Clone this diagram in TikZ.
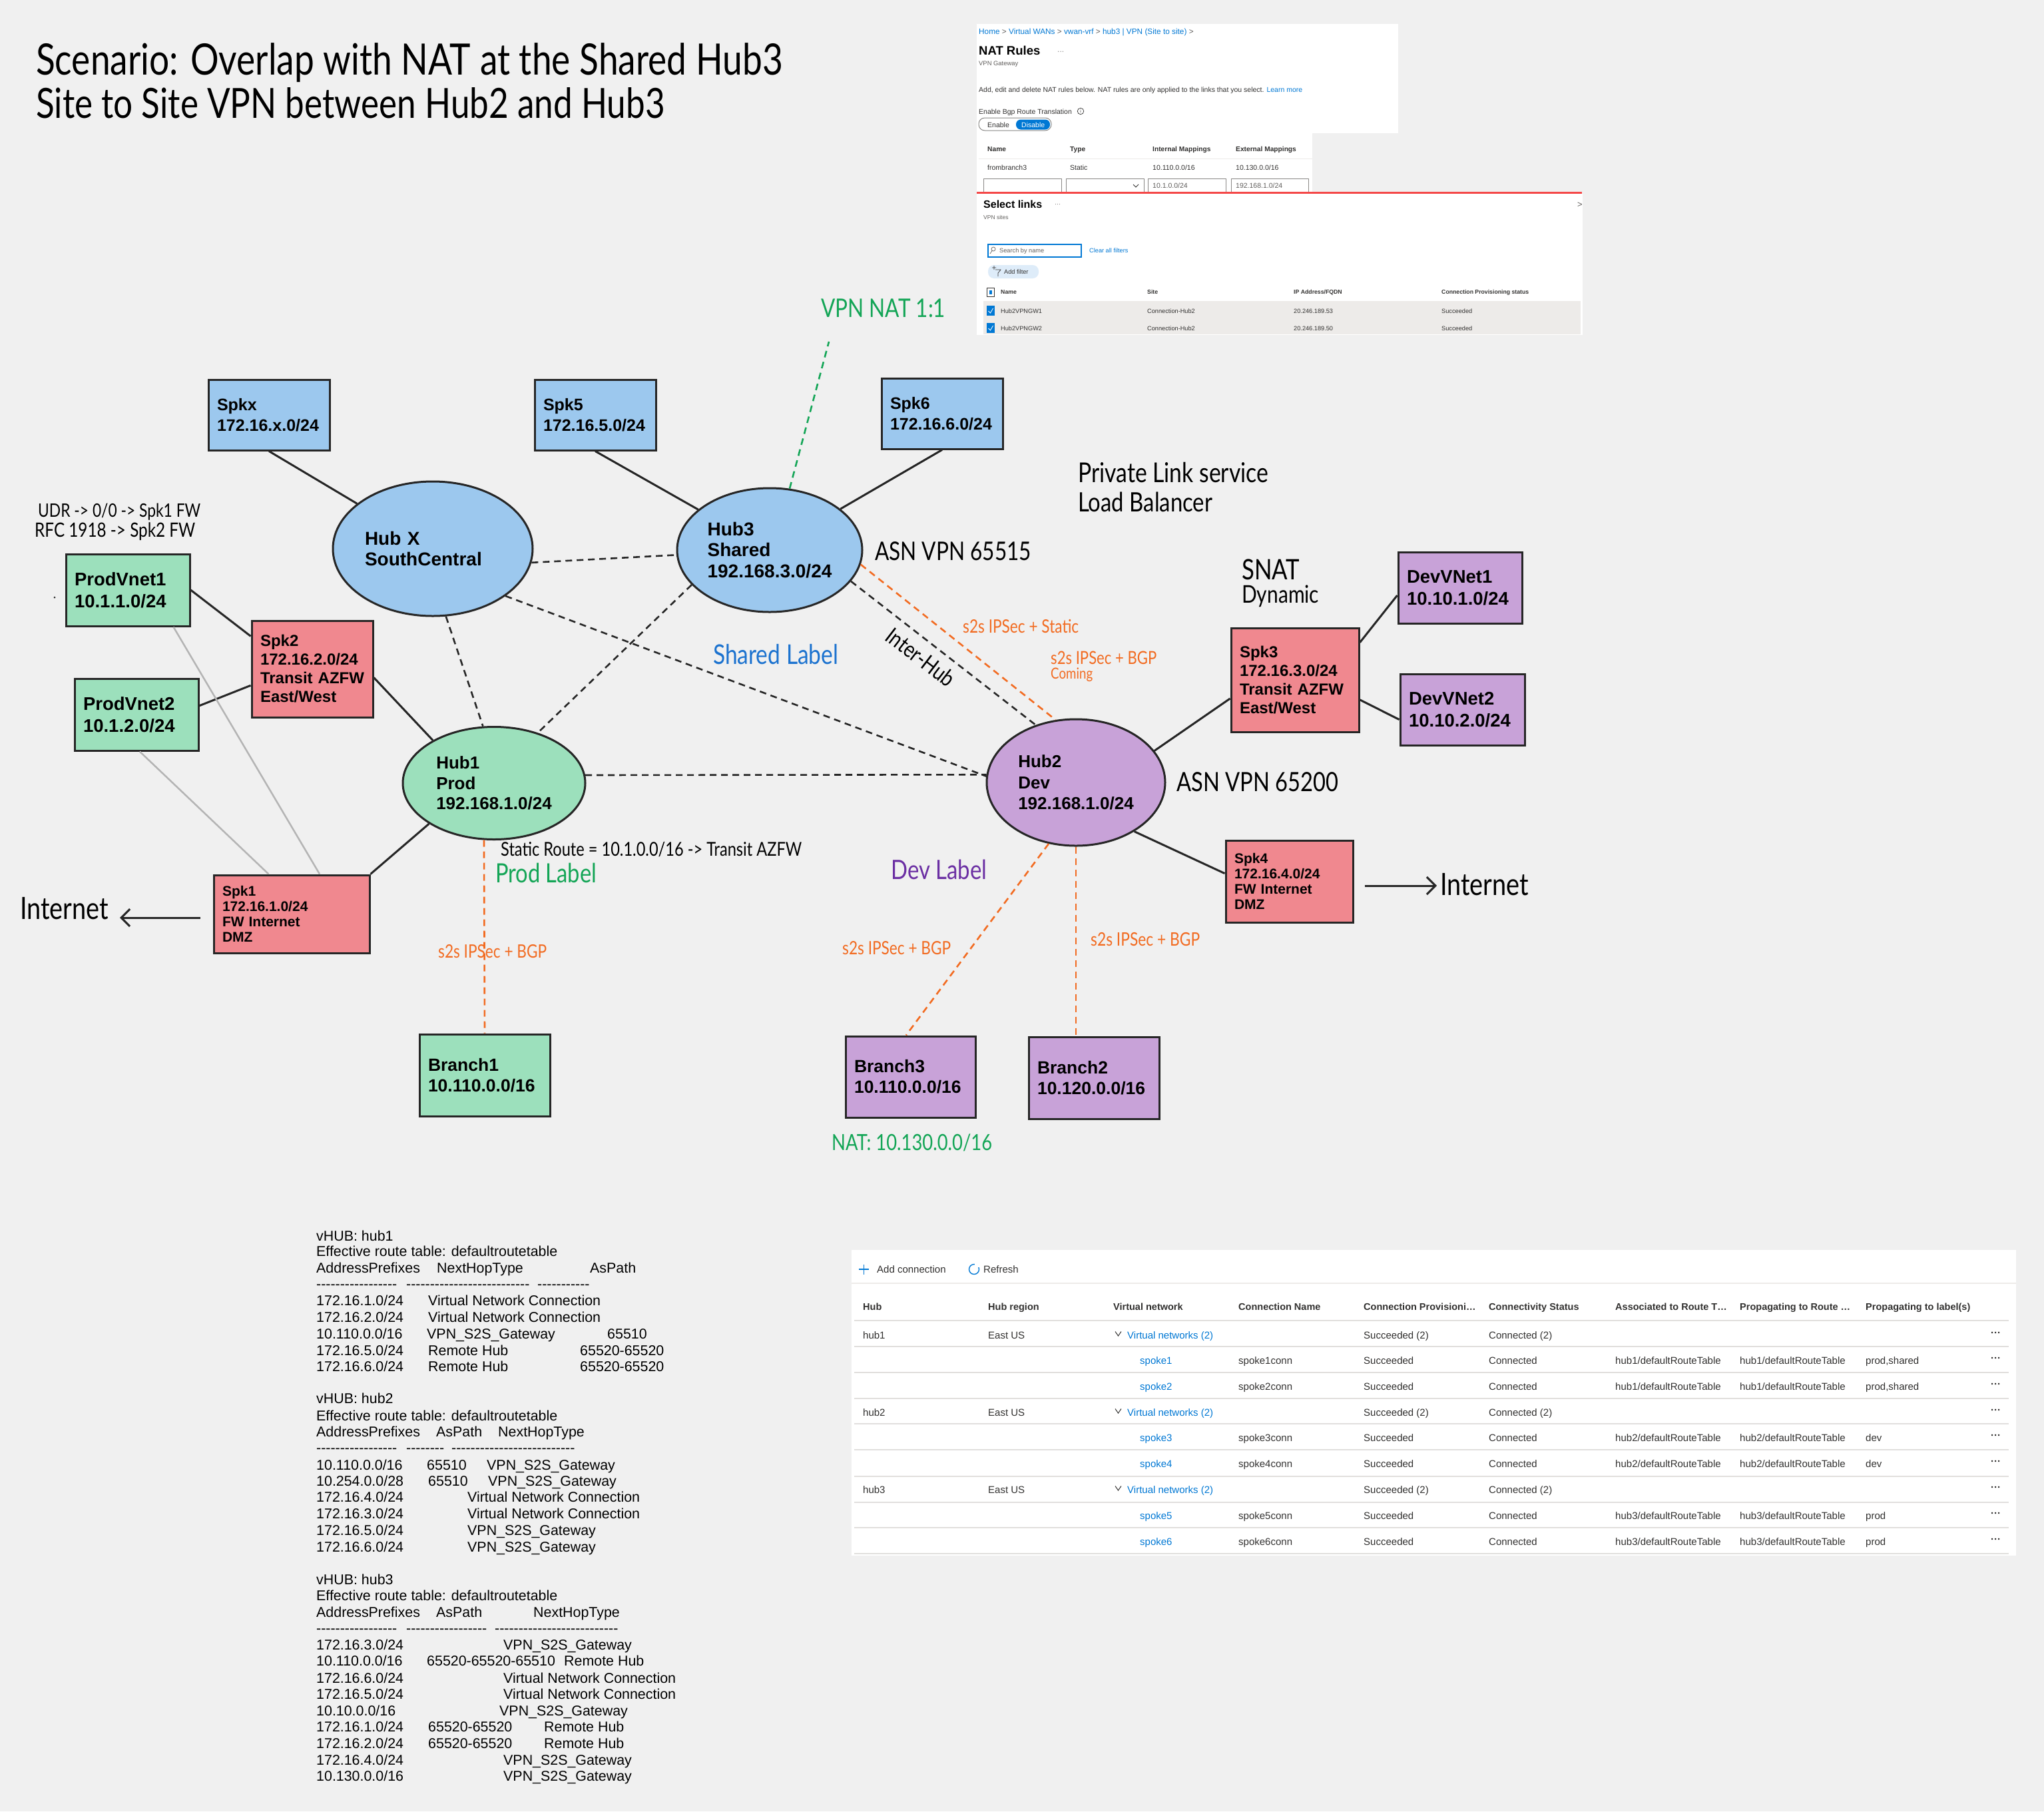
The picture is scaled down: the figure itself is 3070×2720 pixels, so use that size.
\documentclass[tikz,border=0pt]{standalone}
\usepackage{graphicx}
\usepackage{fontspec}
\setmainfont{Liberation Sans}
\newfontfamily\handfont{Lato}[FakeStretch=0.82]
\usetikzlibrary{calc,shapes.geometric,arrows.meta}

\definecolor{bgc}{HTML}{F0F0F0}
\definecolor{lc}{HTML}{262626}
\definecolor{hubblue}{HTML}{9CC8EE}
\definecolor{mint}{HTML}{9CE0BC}
\definecolor{pinkc}{HTML}{F0888F}
\definecolor{lilac}{HTML}{C8A2D8}
\definecolor{orc}{HTML}{F26B21}
\definecolor{grnc}{HTML}{13A556}
\definecolor{bluel}{HTML}{1B72CF}
\definecolor{purpl}{HTML}{6B2FA3}
\definecolor{greyl}{HTML}{B4B4B4}
\definecolor{azblue}{HTML}{0078D4}
\definecolor{uitext}{HTML}{323130}
\definecolor{uigrey}{HTML}{605E5C}
\definecolor{uiborder}{HTML}{8A8886}
\definecolor{uisep}{HTML}{E1DFDD}
\definecolor{uirow}{HTML}{EDEBE9}
\definecolor{uired}{HTML}{F44848}
\definecolor{uipill}{HTML}{DEECF9}

\newcounter{nn}
\newcommand\Tx[3][]{\stepcounter{nn}\node[anchor=base west,inner sep=0pt,#1] (t\thenn) at (#2) {#3};}
\newcommand\HW[4][]{\stepcounter{nn}\node[anchor=base west,inner sep=0pt,#1] (t\thenn) at (#2) {\resizebox{#3pt}{!}{\handfont #4}};}
\newcommand\hy[1]{\foreach\ii in {1,...,#1}{\mbox{-}}}

\tikzset{
 box/.style={draw=lc, line width=3pt, rectangle, inner xsep=13pt, inner ysep=0pt, align=left},
 hub/.style={draw=lc, line width=3pt, ellipse, inner sep=0pt, align=left},
 ln/.style={draw=lc, line width=3pt},
 dsh/.style={draw=lc, line width=2.6pt, dash pattern=on 10pt off 7pt},
 odsh/.style={draw=orc, line width=2.6pt, dash pattern=on 10pt off 7pt},
 gdsh/.style={draw=grnc, line width=2.6pt, dash pattern=on 10pt off 7pt},
 gry/.style={draw=greyl, line width=2.5pt},
 inet/.style={draw=lc, line width=3pt, -{Straight Barb[length=13pt,width=26pt]}},
 rt/.style={font=\fontsize{21.4}{25}\selectfont, text=black},
 ui/.style={font=\fontsize{15}{18}\selectfont, text=uitext},
 uil/.style={font=\fontsize{15}{18}\selectfont, text=azblue},
 uih/.style={font=\bfseries\fontsize{14.5}{18}\selectfont, text=uitext},
 uid/.style={font=\bfseries\fontsize{15}{18}\selectfont, text=uitext},
 na/.style={font=\fontsize{10.5}{13}\selectfont, text=uitext},
 nah/.style={font=\bfseries\fontsize{10.2}{13}\selectfont, text=uitext},
 sl/.style={font=\fontsize{9.2}{11}\selectfont, text=uitext},
 slh/.style={font=\bfseries\fontsize{8.7}{11}\selectfont, text=uitext},
}

\newcommand\GR[2]{%
 \Tx[ui]{1296,#1}{#2}\Tx[ui]{1484,#1}{East US}%
 \draw[uitext, line width=1pt] (1675,#1-11) -- (1679.5,#1-4.5) -- (1684,#1-11);%
 \Tx[uil]{1693,#1}{Virtual networks (2)}\Tx[ui]{2048,#1}{Succeeded (2)}\Tx[ui]{2236,#1}{Connected (2)}\Tx[uid]{2990,#1-4.5}{···}}
\newcommand\SR[4]{%
 \Tx[uil]{1712,#1}{spoke#2}\Tx[ui]{1860,#1}{spoke#2conn}\Tx[ui]{2048,#1}{Succeeded}\Tx[ui]{2236,#1}{Connected}%
 \Tx[ui]{2426,#1}{#3/defaultRouteTable}\Tx[ui]{2613,#1}{#3/defaultRouteTable}\Tx[ui]{2802,#1}{#4}\Tx[uid]{2990,#1-4.5}{···}}

\begin{document}
\begin{tikzpicture}[x=1pt,y=-1pt]
\useasboundingbox (0,0) rectangle (3070,2720);
\fill[bgc] (0,0) rectangle (3070,2720);

% ---------------- titles and hand labels
\HW{54,112}{1121}{Scenario: Overlap with NAT at the Shared Hub3}
\HW{54,177}{944}{Site to Site VPN between Hub2 and Hub3}
\HW{57,776}{244}{UDR -> 0/0 -> Spk1 FW}
\HW{52,806}{241}{RFC 1918 -> Spk2 FW}
\fill[lc] (82,897) circle (1.5);

% ---------------- NAT rules screenshot
\fill[white] (1467,36) rectangle (2100,200);
\fill[white] (1467,200) rectangle (1971,292);
\Tx[font=\fontsize{11.8}{14}\selectfont, text=azblue]{1470,51}{Home \textcolor{uigrey}{>} Virtual WANs \textcolor{uigrey}{>} vwan-vrf \textcolor{uigrey}{>} hub3 | VPN (Site to site) \textcolor{uigrey}{>}}
\Tx[font=\bfseries\fontsize{18.5}{22}\selectfont, text=black]{1470,82}{NAT Rules}
\Tx[font=\fontsize{10}{12}\selectfont, text=uigrey]{1588,80}{···}
\Tx[font=\fontsize{9.4}{11}\selectfont, text=uigrey]{1470,98}{VPN Gateway}
\Tx[na]{1470,138}{Add, edit and delete NAT rules below. NAT rules are only applied to the links that you select. \textcolor{azblue}{Learn more}}
\Tx[na]{1470,171}{Enable Bgp Route Translation}
\node[draw=uitext, circle, line width=0.7pt, inner sep=0pt, minimum size=9.5pt, font=\fontsize{6.5}{7}\selectfont, text=uitext] (info) at (1623,167) {i};
\draw[uiborder, line width=1pt, rounded corners=9pt] (1470,177) rectangle (1579,196);
\fill[azblue, rounded corners=7pt] (1526,179.5) rectangle (1577,194.5);
\Tx[na]{1483,191}{Enable}
\Tx[na, text=white]{1534,191}{Disable}
\Tx[nah]{1483,227}{Name}
\Tx[nah]{1607,227}{Type}
\Tx[nah]{1731,227}{Internal Mappings}
\Tx[nah]{1856,227}{External Mappings}
\draw[uirow, line width=1pt] (1470,238) -- (1971,238);
\Tx[na]{1483,255}{frombranch3}
\Tx[na]{1607,255}{Static}
\Tx[na]{1731,255}{10.110.0.0/16}
\Tx[na]{1856,255}{10.130.0.0/16}
\draw[uiborder, line width=1pt] (1477,268) rectangle (1594,296);
\draw[uiborder, line width=1pt] (1601,268) rectangle (1718,296);
\draw[uiborder, line width=1pt] (1724,268) rectangle (1841,296);
\draw[uiborder, line width=1pt] (1849,268) rectangle (1965,296);
\draw[uitext, line width=0.8pt] (1702,277) -- (1706,281) -- (1710,277);
\Tx[na, text=uigrey]{1731,282}{10.1.0.0/24}
\Tx[na, text=uigrey]{1856,282}{192.168.1.0/24}

% ---------------- Select links screenshot
\fill[white] (1467,291) rectangle (2377,503);
\draw[uired, line width=3pt] (1467,289) -- (2376,289);
\Tx[font=\bfseries\fontsize{16}{19}\selectfont, text=black]{1477,312}{Select links}
\Tx[font=\fontsize{9}{11}\selectfont, text=uigrey]{1584,309}{···}
\Tx[font=\fontsize{13}{15}\selectfont, text=uigrey]{2369,311}{>}
\Tx[font=\fontsize{8.5}{10}\selectfont, text=uigrey]{1477,329}{VPN sites}
\draw[azblue, line width=1.2pt] (1484,367) rectangle (1624,386);
\draw[uigrey, line width=0.7pt] (1492,374) circle (3) (1490,376.5) -- (1487,381);
\Tx[sl, text=uigrey]{1501,379}{Search by name}
\Tx[sl, text=azblue]{1636,379}{Clear all filters}
\fill[uipill, rounded corners=9pt] (1484,398) rectangle (1560,418);
\draw[uitext, line width=0.7pt] (1490,402) -- (1496,402) (1493,399) -- (1493,405) (1495,405) -- (1503,405) -- (1499,410) -- (1499,415);
\Tx[sl]{1508,411}{Add filter}
\draw[uitext, line width=0.8pt] (1482,432) rectangle (1493,445);
\fill[azblue] (1485.5,435.5) rectangle (1489.5,441.5);
\Tx[slh]{1503,441}{Name}
\Tx[slh]{1723,441}{Site}
\Tx[slh]{1943,441}{IP Address/FQDN}
\Tx[slh]{2165,441}{Connection Provisioning status}
\fill[uirow] (1477,452) rectangle (2374,502);
\fill[azblue] (1482,459) rectangle (1494,474);
\draw[white, line width=0.8pt] (1484.5,467) -- (1487.5,470) -- (1491.5,463);
\fill[azblue] (1482,485) rectangle (1494,500);
\draw[white, line width=0.8pt] (1484.5,493) -- (1487.5,496) -- (1491.5,489);
\Tx[sl]{1503,470}{Hub2VPNGW1}
\Tx[sl]{1723,470}{Connection-Hub2}
\Tx[sl]{1943,470}{20.246.189.53}
\Tx[sl]{2165,470}{Succeeded}
\Tx[sl]{1503,496}{Hub2VPNGW2}
\Tx[sl]{1723,496}{Connection-Hub2}
\Tx[sl]{1943,496}{20.246.189.50}
\Tx[sl]{2165,496}{Succeeded}

% ---------------- diagram nodes
\node[box, fill=hubblue, minimum width=182, minimum height=106, text width=156, font=\bfseries\fontsize{25}{31}\selectfont] (spkx) at (404,623) {Spkx\\172.16.x.0/24};
\node[box, fill=hubblue, minimum width=182, minimum height=106, text width=156, font=\bfseries\fontsize{25}{31}\selectfont] (spk5) at (894,623) {Spk5\\172.16.5.0/24};
\node[box, fill=hubblue, minimum width=182, minimum height=106, text width=156, font=\bfseries\fontsize{25}{31}\selectfont] (spk6) at (1415,621) {Spk6\\172.16.6.0/24};
\node[box, fill=mint, minimum width=186, minimum height=108, text width=160, font=\bfseries\fontsize{27.5}{33}\selectfont] (pv1) at (192,886) {ProdVnet1\\10.1.1.0/24};
\node[box, fill=mint, minimum width=186, minimum height=108, text width=160, font=\bfseries\fontsize{27.5}{33}\selectfont] (pv2) at (205,1073) {ProdVnet2\\10.1.2.0/24};
\node[box, fill=pinkc, minimum width=182, minimum height=145, text width=156, font=\bfseries\fontsize{24}{28}\selectfont] (spk2) at (469,1004.5) {Spk2\\172.16.2.0/24\\\mbox{Transit AZFW}\\East/West};
\node[box, fill=pinkc, minimum width=234, minimum height=117, text width=208, font=\bfseries\fontsize{21}{23}\selectfont] (spk1) at (438,1372.5) {Spk1\\172.16.1.0/24\\\mbox{FW Internet}\\DMZ};
\node[box, fill=mint, minimum width=196, minimum height=123, text width=170, font=\bfseries\fontsize{26.5}{31}\selectfont] (b1) at (728,1614.5) {Branch1\\10.110.0.0/16};
\node[box, fill=lilac, minimum width=195, minimum height=122, text width=169, font=\bfseries\fontsize{26.5}{31}\selectfont] (b3) at (1367.5,1617) {Branch3\\10.110.0.0/16};
\node[box, fill=lilac, minimum width=196, minimum height=123, text width=170, font=\bfseries\fontsize{26.5}{31}\selectfont] (b2) at (1643,1618.5) {Branch2\\10.120.0.0/16};
\node[box, fill=pinkc, minimum width=192, minimum height=156, text width=166, font=\bfseries\fontsize{24}{28}\selectfont] (spk3) at (1945,1021) {Spk3\\172.16.3.0/24\\\mbox{Transit AZFW}\\East/West};
\node[box, fill=lilac, minimum width=186, minimum height=107, text width=160, font=\bfseries\fontsize{27.5}{33}\selectfont] (dv1) at (2193,882.5) {DevVNet1\\10.10.1.0/24};
\node[box, fill=lilac, minimum width=187, minimum height=107, text width=161, font=\bfseries\fontsize{27.5}{33}\selectfont] (dv2) at (2196.5,1065.5) {DevVNet2\\10.10.2.0/24};
\node[box, fill=pinkc, minimum width=191, minimum height=123, text width=165, font=\bfseries\fontsize{21}{23}\selectfont] (spk4) at (1936.5,1323.5) {Spk4\\172.16.4.0/24\\\mbox{FW Internet}\\DMZ};

\node[hub, fill=hubblue, minimum width=300, minimum height=202, text width=204, font=\bfseries\fontsize{28}{31}\selectfont] (hubx) at (650,824) {\mbox{Hub X}\\SouthCentral};
\node[hub, fill=hubblue, minimum width=278, minimum height=186, font=\bfseries\fontsize{28}{31.5}\selectfont] (hub3) at (1156,826) {Hub3\\Shared\\192.168.3.0/24};
\node[hub, fill=mint, minimum width=274, minimum height=169, font=\bfseries\fontsize{26}{30.6}\selectfont] (hub1) at (742,1176) {Hub1\\Prod\\192.168.1.0/24};
\node[hub, fill=lilac, minimum width=268, minimum height=190, font=\bfseries\fontsize{26}{31.5}\selectfont] (hub2) at (1616,1175) {Hub2\\Dev\\192.168.1.0/24};

% ---------------- connectors
\draw[ln] (spkx.south) -- (hubx);
\draw[ln] (spk5.south) -- (hub3);
\draw[ln] (spk6.south) -- (hub3);
\draw[dsh] (hubx.-8) -- (hub3.183);
\draw[dsh] (hubx.-33) -- (hub2.176);
\draw[dsh] (hubx.-79) -- (hub1.101);
\draw[dsh] (hub3.204) -- (hub1.49);
\draw[dsh] (hub1.5) -- (hub2.175);
\draw[dsh] (hub3.-21) -- (hub2.125);
\draw[odsh] (hub3.-9) -- (hub2.108);
\coordinate (natend) at (1245,513);
\draw[gdsh] (hub3.72) -- (natend);
\draw[ln] (pv1.east) -- (spk2.152);
\draw[ln] (pv2.8) -- (spk2.195);
\draw[ln] (spk2.-8) -- (hub1.145);
\draw[gry] (pv1.-39) -- (spk1.55);
\draw[gry] (pv2.-85) -- (spk1.120);
\draw[ln] (hub1.212) -- (spk1.north east);
\coordinate (arrL) at (180,1378);
\draw[inet] ($(spk1.west)+(-19,5.5)$) -- (arrL);
\draw[odsh] (hub1.-100) -- (b1.north);
\draw[odsh] (hub2.-114) -- (b3.96);
\draw[odsh] (hub2.south) -- (b2.north -| hub2.south);
\draw[ln] (hub2.22) -- (spk3.196);
\draw[ln] (spk3.30) -- (dv1.187);
\draw[ln] (spk3.-17) -- (dv2.189);
\draw[ln] (hub2.-40) -- (spk4.173);
\coordinate (arrR) at (2158,1330);
\draw[inet] ($(spk4.east)+(16,6.5)$) -- (arrR);

% ---------------- diagram labels
\HW{30,1380}{133}{Internet}
\HW[text=grnc]{1233,476}{187}{VPN NAT 1:1}
\HW{1619,724}{286}{Private Link service}
\HW{1619,768}{202}{Load Balancer}
\HW{1314,841}{235}{ASN VPN 65515}
\HW{1865,870}{87}{SNAT}
\HW{1865,905}{116}{Dynamic}
\HW[text=bluel]{1071,997}{188}{Shared Label}
\node[rotate=-37.5, inner sep=0pt] (interhub) at (1383,987) {\resizebox{120pt}{!}{\handfont Inter-Hub}};
\HW[text=orc]{1446,950}{174}{s2s IPSec + Static}
\HW[text=orc]{1578,997}{159}{s2s IPSec + BGP}
\HW[text=orc]{1578,1019}{63}{Coming}
\HW{1767,1188}{243}{ASN VPN 65200}
\HW{752,1285}{452}{Static Route = 10.1.0.0/16 -> Transit AZFW}
\HW[text=grnc]{744,1325}{152}{Prod Label}
\HW[text=purpl]{1338,1320}{144}{Dev Label}
\HW[text=orc]{658,1438}{163}{s2s IPSec + BGP}
\HW[text=orc]{1265,1433}{163}{s2s IPSec + BGP}
\HW[text=orc]{1638,1420}{164}{s2s IPSec + BGP}
\HW[text=grnc]{1249,1727}{241}{NAT: 10.130.0.0/16}
\HW{2163,1344}{133}{Internet}

% ---------------- route tables
\Tx[rt]{475,1863}{vHUB: hub1}
\Tx[rt]{475,1886}{Effective route table: defaultroutetable}
\Tx[rt]{475,1911}{AddressPrefixes}\Tx[rt]{656,1911}{NextHopType}\Tx[rt]{886,1911}{AsPath}
\Tx[rt]{475,1935}{\hy{17}}\Tx[rt]{610,1935}{\hy{26}}\Tx[rt]{807,1935}{\hy{11}}
\Tx[rt]{475,1960}{172.16.1.0/24}\Tx[rt]{643,1960}{Virtual Network Connection}
\Tx[rt]{475,1985}{172.16.2.0/24}\Tx[rt]{643,1985}{Virtual Network Connection}
\Tx[rt]{475,2010}{10.110.0.0/16}\Tx[rt]{641,2010}{VPN\_S2S\_Gateway}\Tx[rt]{912,2010}{65510}
\Tx[rt]{475,2035}{172.16.5.0/24}\Tx[rt]{643,2035}{Remote Hub}\Tx[rt]{871,2035}{65520-65520}
\Tx[rt]{475,2059}{172.16.6.0/24}\Tx[rt]{643,2059}{Remote Hub}\Tx[rt]{871,2059}{65520-65520}

\Tx[rt]{475,2107}{vHUB: hub2}
\Tx[rt]{475,2133}{Effective route table: defaultroutetable}
\Tx[rt]{475,2157}{AddressPrefixes}\Tx[rt]{655,2157}{AsPath}\Tx[rt]{748,2157}{NextHopType}
\Tx[rt]{475,2181}{\hy{17}}\Tx[rt]{610,2181}{\hy{8}}\Tx[rt]{678,2181}{\hy{26}}
\Tx[rt]{475,2207}{10.110.0.0/16}\Tx[rt]{641,2207}{65510}\Tx[rt]{731,2207}{VPN\_S2S\_Gateway}
\Tx[rt]{475,2231}{10.254.0.0/28}\Tx[rt]{643,2231}{65510}\Tx[rt]{733,2231}{VPN\_S2S\_Gateway}
\Tx[rt]{475,2255}{172.16.4.0/24}\Tx[rt]{702,2255}{Virtual Network Connection}
\Tx[rt]{475,2280}{172.16.3.0/24}\Tx[rt]{702,2280}{Virtual Network Connection}
\Tx[rt]{475,2305}{172.16.5.0/24}\Tx[rt]{702,2305}{VPN\_S2S\_Gateway}
\Tx[rt]{475,2330}{172.16.6.0/24}\Tx[rt]{702,2330}{VPN\_S2S\_Gateway}

\Tx[rt]{475,2379}{vHUB: hub3}
\Tx[rt]{475,2403}{Effective route table: defaultroutetable}
\Tx[rt]{475,2428}{AddressPrefixes}\Tx[rt]{655,2428}{AsPath}\Tx[rt]{801,2428}{NextHopType}
\Tx[rt]{475,2452}{\hy{17}}\Tx[rt]{610,2452}{\hy{17}}\Tx[rt]{743,2452}{\hy{26}}
\Tx[rt]{475,2477}{172.16.3.0/24}\Tx[rt]{756,2477}{VPN\_S2S\_Gateway}
\Tx[rt]{475,2501}{10.110.0.0/16}\Tx[rt]{641,2501}{65520-65520-65510}\Tx[rt]{847,2501}{Remote Hub}
\Tx[rt]{475,2527}{172.16.6.0/24}\Tx[rt]{756,2527}{Virtual Network Connection}
\Tx[rt]{475,2551}{172.16.5.0/24}\Tx[rt]{756,2551}{Virtual Network Connection}
\Tx[rt]{475,2576}{10.10.0.0/16}\Tx[rt]{750,2576}{VPN\_S2S\_Gateway}
\Tx[rt]{475,2600}{172.16.1.0/24}\Tx[rt]{643,2600}{65520-65520}\Tx[rt]{817,2600}{Remote Hub}
\Tx[rt]{475,2625}{172.16.2.0/24}\Tx[rt]{643,2625}{65520-65520}\Tx[rt]{817,2625}{Remote Hub}
\Tx[rt]{475,2650}{172.16.4.0/24}\Tx[rt]{756,2650}{VPN\_S2S\_Gateway}
\Tx[rt]{475,2674}{10.130.0.0/16}\Tx[rt]{756,2674}{VPN\_S2S\_Gateway}

% ---------------- connections table screenshot
\fill[white] (1279,1877) rectangle (3028,2336);
\draw[azblue, line width=1.5pt] (1290,1906) -- (1305,1906) (1297.5,1898.5) -- (1297.5,1913.5);
\Tx[ui]{1317,1911.5}{Add connection}
\draw[azblue, line width=1.4pt] (1463,1906) circle (7.5);
\fill[white] (1464,1897) rectangle (1471,1903);
\Tx[ui]{1477,1911.5}{Refresh}
\draw[uirow, line width=2pt] (1279,1927) -- (3028,1927);
\Tx[uih]{1296,1967}{Hub}
\Tx[uih]{1484,1967}{Hub region}
\Tx[uih]{1672,1967}{Virtual network}
\Tx[uih]{1860,1967}{Connection Name}
\Tx[uih]{2048,1967}{Connection Provisioni…}
\Tx[uih]{2236,1967}{Connectivity Status}
\Tx[uih]{2426,1967}{Associated to Route T…}
\Tx[uih]{2613,1967}{Propagating to Route …}
\Tx[uih]{2802,1967}{Propagating to label(s)}
\foreach \yy in {1983,2022,2061,2100,2138,2177,2217,2256,2294,2333}
  \draw[uisep, line width=2pt] (1283,\yy) -- (3017,\yy);
\GR{2010.5}{hub1}
\SR{2048.5}{1}{hub1}{prod,shared}
\SR{2087.5}{2}{hub1}{prod,shared}
\GR{2126.5}{hub2}
\SR{2164.5}{3}{hub2}{dev}
\SR{2203.5}{4}{hub2}{dev}
\GR{2242.5}{hub3}
\SR{2281.5}{5}{hub3}{prod}
\SR{2320.5}{6}{hub3}{prod}
\end{tikzpicture}
\end{document}
